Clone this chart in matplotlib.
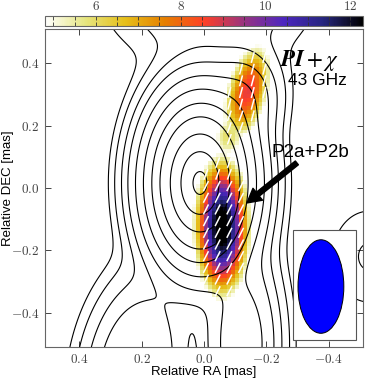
import numpy as np
import matplotlib
matplotlib.use("Agg")
import matplotlib.pyplot as plt
from matplotlib.patches import Ellipse, Rectangle
from matplotlib.ticker import FuncFormatter, MultipleLocator

# ---------------- data ----------------
# Stokes I model components (mas): RA, DEC, relative amplitude, sigma_RA, sigma_DEC, tilt (deg, + = top toward west)
I_RA    = [0.013, -0.12, -0.015, -0.12, 0.22, -0.53]
I_DEC   = [0.016,  0.28,  0.62, -0.50, -0.58, -0.22]
I_AMP   = [1.0,    0.025, 0.0053, 0.05, 0.03, 0.002]
I_SRA   = [0.077,  0.06,  0.17, 0.06, 0.08, 0.08]
I_SDEC  = [0.127,  0.08,  0.12, 0.15, 0.15, 0.10]
I_TILT  = [0, 10, 0, 0, 10, 0]
CONTOUR_EXP = [0.06, 0.45, 1.1, 2.0, 2.9, 4.0, 5.2, 6.5, 7.7, 9.1, 10.5]  # levels = 2**-k

# Polarised intensity components: RA, DEC, amplitude, sigma_RA, sigma_DEC, tilt, EVPA (deg)
P_RA   = [-0.058, -0.140, -0.080]
P_DEC  = [-0.125,  0.310,  0.165]
P_AMP  = [13.0,    8.8,    6.0]
P_SRA  = [0.067,   0.060,  0.060]
P_SDEC = [0.170,   0.140,  0.080]
P_TILT = [0,       15,     10]
P_EVPA = [27,      15,     20]

PI_MIN, PI_MAX = 4.8, 12.3
PIXEL = 0.0125
CBAR_TICKS = [6, 8, 10, 12]
XTICKS = [0.4, 0.2, 0.0, -0.2, -0.4]
YTICKS = [-0.4, -0.2, 0.0, 0.2, 0.4]
BEAM_RA, BEAM_DEC, BEAM_MIN, BEAM_MAJ, BEAM_PA = -0.375, -0.316, 0.147, 0.30, 0

LIM = 0.51


def gauss_comps(ra, dec, cra, cdec, amp, sra, sdec, tilt):
    out = []
    for r0, d0, a, sx, sy, t in zip(cra, cdec, amp, sra, sdec, tilt):
        th = np.deg2rad(t)
        u, v = ra - r0, dec - d0
        along = -u * np.sin(th) + v * np.cos(th)
        across = u * np.cos(th) + v * np.sin(th)
        out.append(a * np.exp(-(across ** 2 / (2 * sx ** 2) + along ** 2 / (2 * sy ** 2))))
    return np.array(out)


plt.rcParams['mathtext.fontset'] = 'cm'
fig = plt.figure(figsize=(3.66, 3.78), dpi=100)
ax = fig.add_axes([45 / 366, 31 / 378, 318 / 366, 318 / 378])
cax = fig.add_axes([45 / 366, (378 - 26) / 378, 318 / 366, 10 / 378])

# Stokes I contours
g = np.linspace(-0.7, 0.7, 561)
RA, DEC = np.meshgrid(g, g)
I = gauss_comps(RA, DEC, I_RA, I_DEC, I_AMP, I_SRA, I_SDEC, I_TILT).sum(axis=0)
levels = sorted(2.0 ** -np.array(CONTOUR_EXP))

# PI pixels
edges_ra = np.arange(-0.40, 0.20 + 1e-9, PIXEL)
edges_dec = np.arange(-0.50, 0.55 + 1e-9, PIXEL)
cra = 0.5 * (edges_ra[1:] + edges_ra[:-1])
cdec = 0.5 * (edges_dec[1:] + edges_dec[:-1])
PRA, PDEC = np.meshgrid(cra, cdec)
PI = gauss_comps(PRA, PDEC, P_RA, P_DEC, P_AMP, P_SRA, P_SDEC, P_TILT).max(axis=0)
PIm = np.ma.masked_less(PI, PI_MIN)
mesh = ax.pcolormesh(edges_ra, edges_dec, PIm, cmap='CMRmap_r', vmin=PI_MIN, vmax=PI_MAX,
                     shading='flat', zorder=1)

ax.contour(RA, DEC, I, levels=levels, colors='k', linewidths=0.8, zorder=2)

# EVPA ticks
L = 0.036
for i in range(1, len(cdec), 3):
    for j in range(1, len(cra), 3):
        if PI[i, j] > 5.4:
            d = [(PRA[i, j] - a) ** 2 + (PDEC[i, j] - b) ** 2 for a, b in zip(P_RA, P_DEC)]
            ev = np.deg2rad(P_EVPA[int(np.argmin(d))])
            dx, dy = -0.5 * L * np.sin(ev), 0.5 * L * np.cos(ev)
            ax.plot([PRA[i, j] - dx, PRA[i, j] + dx], [PDEC[i, j] - dy, PDEC[i, j] + dy],
                    color='white', lw=1.1, solid_capstyle='butt', zorder=3)

ax.set_xlim(LIM, -LIM)
ax.set_ylim(-LIM, LIM)
ax.set_aspect('equal')

fmt = FuncFormatter(lambda v, p: ("$%.1f$" % v).replace('-0.0', '0.0'))
ax.set_xticks(XTICKS)
ax.set_yticks(YTICKS)
ax.xaxis.set_major_formatter(fmt)
ax.yaxis.set_major_formatter(fmt)
ax.tick_params(direction='in', top=True, right=True, length=4, width=0.7,
               labelsize=9.5, colors='#444444', pad=4)
for s in ax.spines.values():
    s.set_color('#666666')
    s.set_linewidth(0.8)
ax.set_xlabel('Relative RA [mas]', fontsize=9.5, family='Liberation Sans', labelpad=0)
ax.set_ylabel('Relative DEC [mas]', fontsize=9.5, family='Liberation Sans')
ax.yaxis.set_label_coords(-0.098, 0.5)

# beam box
ax.add_patch(Rectangle((0.78, 0.022), 0.198, 0.346, transform=ax.transAxes,
                       facecolor='white', edgecolor='#555555', lw=0.8, zorder=5))
ax.add_patch(Ellipse((BEAM_RA, BEAM_DEC), BEAM_MIN, BEAM_MAJ, angle=BEAM_PA,
                     facecolor='#0000ff', edgecolor='black', lw=0.7, zorder=6))

# annotations
ax.text(0.833, 0.885, r'$\mathbfit{PI}+\chi$', transform=ax.transAxes, ha='center',
        va='baseline', fontsize=16.5, math_fontfamily='stix', zorder=7)
ax.text(0.95, 0.824, '43 GHz', transform=ax.transAxes, ha='right', va='baseline',
        fontsize=12.5, family='Liberation Sans', zorder=7)
ax.text(0.833, 0.597, 'P2a+P2b', transform=ax.transAxes, ha='center', va='baseline',
        fontsize=13.5, family='Liberation Sans', zorder=7)
ax.annotate('', xy=(0.635, 0.453), xytext=(0.792, 0.579), xycoords='axes fraction',
            arrowprops=dict(facecolor='black', edgecolor='black', width=3.5,
                            headwidth=11, headlength=10, shrink=0), zorder=7)

# colorbar
cb = fig.colorbar(mesh, cax=cax, orientation='horizontal', ticks=CBAR_TICKS)
cax.xaxis.set_ticks_position('top')
cax.xaxis.set_major_formatter(FuncFormatter(lambda v, p: "$%d$" % v))
cax.xaxis.set_minor_locator(MultipleLocator(0.5))
cax.tick_params(which='both', direction='in', top=True, bottom=True, length=3, width=0.6,
                labelsize=9.5, colors='#444444', pad=2)
cax.tick_params(which='both', color='#333333')
cb.outline.set_edgecolor('#666666')
cb.outline.set_linewidth(0.8)

fig.savefig('out.png', dpi=100)
